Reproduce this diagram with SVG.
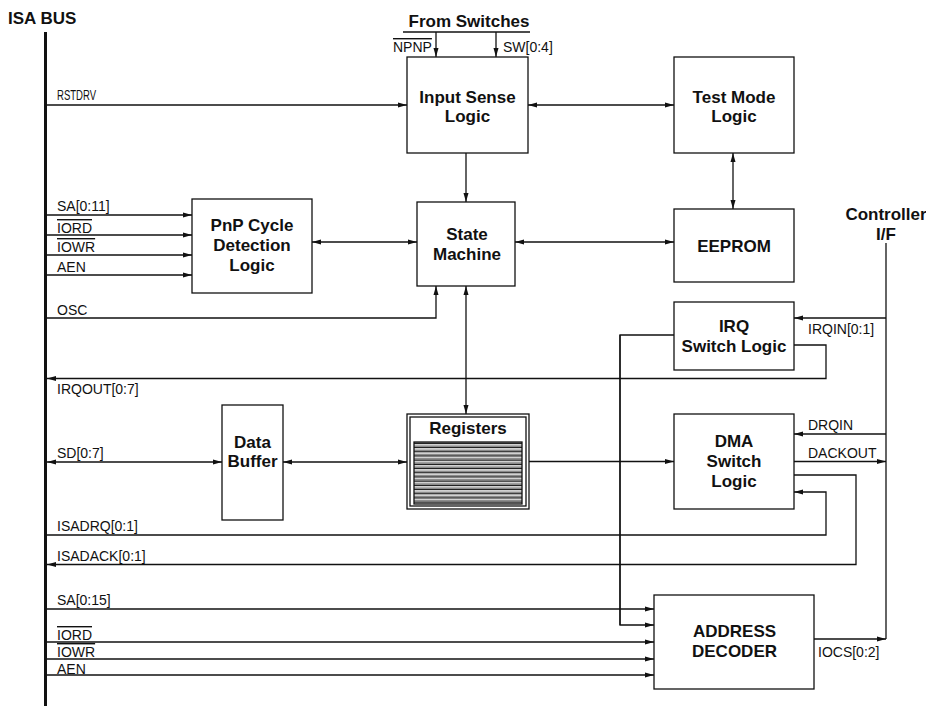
<svg xmlns="http://www.w3.org/2000/svg" width="926" height="710" viewBox="0 0 926 710">
<defs>
<style>
.ln{fill:none;stroke:#111;stroke-width:1.3}
.box{fill:#fff;stroke:#111;stroke-width:1.3}
.lb{font-family:"Liberation Sans",Arial,sans-serif;font-size:14px;fill:#111}
.bt{font-family:"Liberation Sans",Arial,sans-serif;font-size:17px;font-weight:bold;fill:#111;text-anchor:middle}
.ov{text-decoration:overline}
.a{marker-end:url(#ah)}
.b{marker-start:url(#ah);marker-end:url(#ah)}
</style>
<marker id="ah" markerUnits="userSpaceOnUse" markerWidth="10" markerHeight="6" refX="9" refY="3" orient="auto-start-reverse">
<path d="M0,0.5 L9,3 L0,5.5 z" fill="#111"/>
</marker>
<pattern id="stripes" patternUnits="userSpaceOnUse" x="0" y="443" width="10" height="4.2">
<rect x="0" y="0" width="10" height="4.2" fill="#8a8a8a"/>
<rect x="0" y="0" width="10" height="1.1" fill="#111"/>
<rect x="0" y="1.1" width="10" height="1.1" fill="#fff"/>
</pattern>
</defs>

<g id="isa-bus">
<text class="bt" x="8" y="24" style="text-anchor:start">ISA BUS</text>
<line x1="45.5" y1="32" x2="45.5" y2="706" stroke="#111" stroke-width="3"/>
</g>

<g id="connectors">
<!-- From switches -->
<line class="ln" x1="403" y1="32" x2="530" y2="32"/>
<line class="ln a" x1="436" y1="32" x2="436" y2="57"/>
<line class="ln a" x1="496" y1="32" x2="496" y2="57"/>
<!-- RSTDRV -->
<line class="ln a" x1="47" y1="105" x2="407" y2="105"/>
<!-- Input sense <-> test mode -->
<line class="ln b" x1="528" y1="105" x2="674" y2="105"/>
<!-- Input sense -> state machine -->
<line class="ln a" x1="466" y1="153" x2="466" y2="202"/>
<!-- Test mode <-> EEPROM -->
<line class="ln b" x1="733" y1="153" x2="733" y2="209"/>
<!-- PnP inputs -->
<line class="ln a" x1="47" y1="215" x2="192" y2="215"/>
<line class="ln a" x1="47" y1="235" x2="192" y2="235"/>
<line class="ln a" x1="47" y1="255" x2="192" y2="255"/>
<line class="ln a" x1="47" y1="275" x2="192" y2="275"/>
<!-- PnP <-> SM -->
<line class="ln b" x1="312" y1="242" x2="417" y2="242"/>
<!-- SM <-> EEPROM -->
<line class="ln b" x1="515" y1="242" x2="674" y2="242"/>
<!-- OSC -->
<polyline class="ln a" points="47,318 436,318 436,286"/>
<!-- SM <-> Registers -->
<line class="ln b" x1="466" y1="286" x2="466" y2="414"/>
<!-- Controller I/F bus -->
<line class="ln" x1="886" y1="243" x2="886" y2="639"/>
<!-- IRQIN -->
<line class="ln a" x1="886" y1="318" x2="794" y2="318"/>
<!-- IRQOUT -->
<polyline class="ln a" points="794,345 826,345 826,378.5 47,378.5"/>
<!-- SD -->
<line class="ln b" x1="47" y1="462" x2="222" y2="462"/>
<!-- Data buffer <-> registers -->
<line class="ln b" x1="283" y1="462" x2="407" y2="462"/>
<!-- Registers -> DMA -->
<line class="ln a" x1="529" y1="461.5" x2="674" y2="461.5"/>
<!-- DRQIN -->
<line class="ln a" x1="886" y1="434" x2="794" y2="434"/>
<!-- DACKOUT -->
<line class="ln a" x1="794" y1="461.5" x2="886" y2="461.5"/>
<!-- ISADACK -->
<polyline class="ln a" points="794,475 856,475 856,564.5 47,564.5"/>
<!-- ISADRQ -->
<polyline class="ln a" points="47,535 826,535 826,492 794,492"/>
<!-- IRQ / decoder link -->
<polyline class="ln a" points="674,335 620,335 620,625 654,625"/>
<line class="ln" x1="620" y1="335" x2="620" y2="625"/>
<!-- decoder inputs -->
<line class="ln a" x1="47" y1="609" x2="654" y2="609"/>
<line class="ln a" x1="47" y1="642" x2="654" y2="642"/>
<line class="ln a" x1="47" y1="659" x2="654" y2="659"/>
<line class="ln a" x1="47" y1="675" x2="654" y2="675"/>
<!-- IOCS -->
<line class="ln a" x1="814" y1="639" x2="886" y2="639"/>
</g>

<g id="labels">
<text class="bt" x="469" y="27">From Switches</text>
<text class="lb" x="393" y="52"><tspan class="ov">NPNP</tspan></text>
<text class="lb" x="503" y="52">SW[0:4]</text>
<text class="lb" x="57" y="100" textLength="39" lengthAdjust="spacingAndGlyphs">RSTDRV</text>
<text class="lb" x="57" y="211">SA[0:11]</text>
<text class="lb" x="57" y="233"><tspan class="ov">IORD</tspan></text>
<text class="lb" x="57" y="252"><tspan class="ov">IOWR</tspan></text>
<text class="lb" x="57" y="272">AEN</text>
<text class="lb" x="57" y="315">OSC</text>
<text class="lb" x="57" y="394">IRQOUT[0:7]</text>
<text class="lb" x="57" y="458">SD[0:7]</text>
<text class="lb" x="57" y="531">ISADRQ[0:1]</text>
<text class="lb" x="57" y="561">ISADACK[0:1]</text>
<text class="lb" x="57" y="605">SA[0:15]</text>
<text class="lb" x="57" y="640"><tspan class="ov">IORD</tspan></text>
<text class="lb" x="57" y="657"><tspan class="ov">IOWR</tspan></text>
<text class="lb" x="57" y="674">AEN</text>
<text class="lb" x="808" y="334">IRQIN[0:1]</text>
<text class="lb" x="808" y="430">DRQIN</text>
<text class="lb" x="808" y="458">DACKOUT</text>
<text class="lb" x="818" y="657">IOCS[0:2]</text>
</g>

<g id="controller-if">
<text class="bt" x="886" y="220">Controller</text>
<text class="bt" x="886" y="240">I/F</text>
</g>

<g id="input-sense-logic">
<rect class="box" x="407" y="57" width="121" height="96"/>
<text class="bt" x="467.5" y="103">Input Sense</text>
<text class="bt" x="467.5" y="122">Logic</text>
</g>

<g id="test-mode-logic">
<rect class="box" x="674" y="57" width="120" height="96"/>
<text class="bt" x="734" y="103">Test Mode</text>
<text class="bt" x="734" y="122">Logic</text>
</g>

<g id="pnp-cycle-detection-logic">
<rect class="box" x="192" y="199" width="120" height="94"/>
<text class="bt" x="252" y="231">PnP Cycle</text>
<text class="bt" x="252" y="251">Detection</text>
<text class="bt" x="252" y="271">Logic</text>
</g>

<g id="state-machine">
<rect class="box" x="417" y="202" width="98" height="84"/>
<text class="bt" x="467" y="240">State</text>
<text class="bt" x="467" y="260">Machine</text>
</g>

<g id="eeprom">
<rect class="box" x="674" y="209" width="120" height="73"/>
<text class="bt" x="734" y="252">EEPROM</text>
</g>

<g id="irq-switch-logic">
<rect class="box" x="674" y="302" width="120" height="68"/>
<text class="bt" x="734" y="332">IRQ</text>
<text class="bt" x="734" y="352">Switch Logic</text>
</g>

<g id="data-buffer">
<rect class="box" x="222" y="405" width="61" height="115"/>
<text class="bt" x="252.5" y="448">Data</text>
<text class="bt" x="252.5" y="467">Buffer</text>
</g>

<g id="registers">
<rect class="box" x="407" y="414" width="122" height="95"/>
<rect class="ln" x="410" y="417" width="116" height="89"/>
<text class="bt" x="468" y="434">Registers</text>
<rect x="414" y="442" width="108" height="62" fill="url(#stripes)" stroke="#111" stroke-width="1.3"/>
</g>

<g id="dma-switch-logic">
<rect class="box" x="674" y="414" width="120" height="95"/>
<text class="bt" x="734" y="447">DMA</text>
<text class="bt" x="734" y="467">Switch</text>
<text class="bt" x="734" y="487">Logic</text>
</g>

<g id="address-decoder">
<rect class="box" x="654" y="595" width="160" height="94"/>
<text class="bt" x="734.5" y="637">ADDRESS</text>
<text class="bt" x="734.5" y="657">DECODER</text>
</g>
</svg>
